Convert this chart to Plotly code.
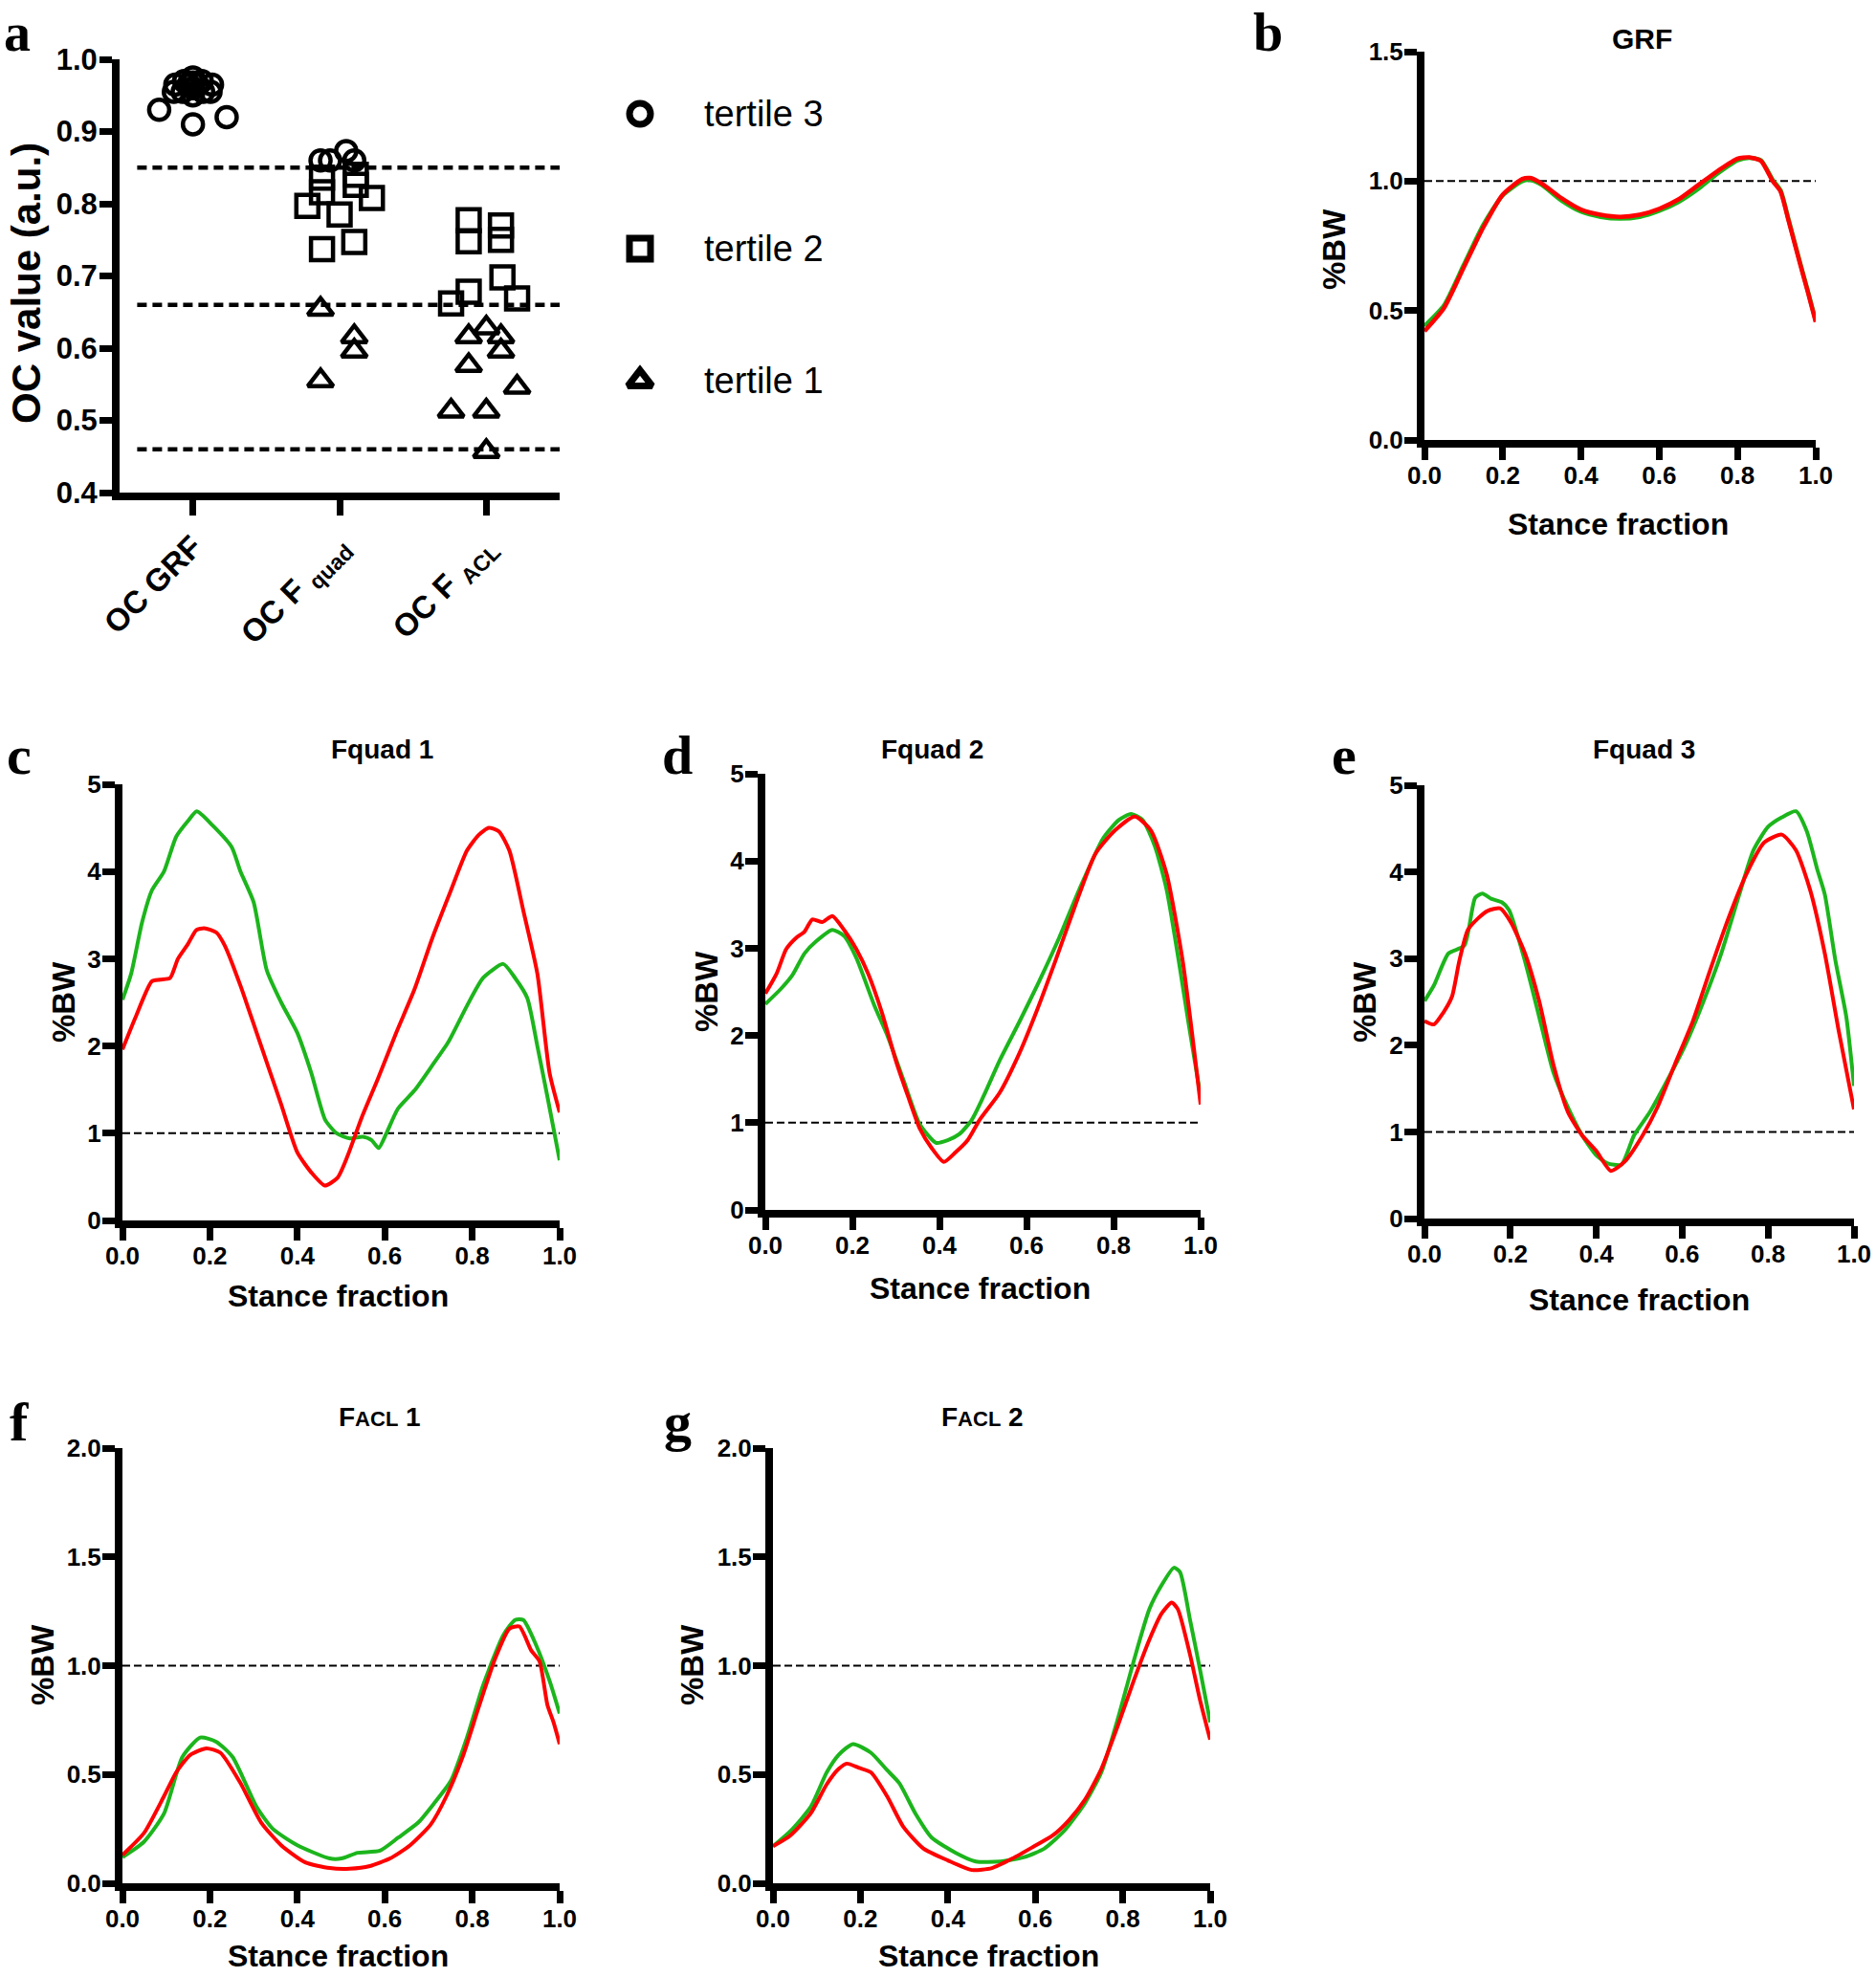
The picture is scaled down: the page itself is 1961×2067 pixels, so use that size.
import plotly.graph_objects as go

# ---------------- DATA ----------------
# Panel a: OC values per category and tertile (value, horizontal jitter offset)
categories = ["OC GRF", "OC F <sub>quad</sub>", "OC F <sub>ACL</sub>"]
tertile_cut_lines = [0.85, 0.66, 0.46]

grf_t3_vals = [0.93, 0.91, 0.92, 0.955, 0.965, 0.97, 0.955, 0.975, 0.96, 0.95, 0.97, 0.955, 0.965, 0.955, 0.965, 0.965, 0.968]
grf_t3_offs = [-0.23, 0.0, 0.23, -0.13, -0.12, -0.06, -0.07, 0.0, 0.0, 0.0, 0.06, 0.07, 0.13, 0.12, -0.03, 0.03, 0.0]

quad_t3_vals = [0.86, 0.86, 0.873, 0.86]
quad_t3_offs = [-0.13, -0.065, 0.045, 0.10]
quad_t2_vals = [0.836, 0.816, 0.84, 0.826, 0.797, 0.785, 0.808, 0.737, 0.747]
quad_t2_offs = [-0.12, -0.12, 0.11, 0.11, -0.22, 0.0, 0.22, -0.12, 0.10]
quad_t1_vals = [0.654, 0.616, 0.596, 0.555]
quad_t1_offs = [-0.13, 0.10, 0.10, -0.13]

acl_t2_vals = [0.777, 0.748, 0.77, 0.75, 0.698, 0.678, 0.662, 0.669]
acl_t2_offs = [-0.12, -0.12, 0.10, 0.10, 0.11, -0.12, -0.24, 0.21]
acl_t1_vals = [0.628, 0.616, 0.616, 0.596, 0.576, 0.546, 0.513, 0.513, 0.457]
acl_t1_offs = [0.0, -0.12, 0.10, 0.10, -0.12, 0.21, -0.24, 0.0, 0.0]

legend_labels = ["tertile 3", "tertile 2", "tertile 1"]

# Panel b: GRF
b_x = [0, 0.05, 0.1, 0.15, 0.2, 0.25, 0.27, 0.3, 0.35, 0.4, 0.45, 0.5, 0.55, 0.6, 0.65, 0.7, 0.75, 0.8, 0.83, 0.86, 0.89, 0.91, 0.93, 0.96, 0.98, 1.0]
b_red = [0.42, 0.51, 0.665, 0.82, 0.948, 1.008, 1.012, 0.99, 0.934, 0.89, 0.87, 0.862, 0.87, 0.893, 0.93, 0.985, 1.04, 1.087, 1.092, 1.078, 1.0, 0.96, 0.85, 0.68, 0.57, 0.456]
b_green = [0.44, 0.52, 0.675, 0.83, 0.945, 1.0, 1.005, 0.985, 0.925, 0.882, 0.862, 0.855, 0.862, 0.885, 0.92, 0.97, 1.03, 1.08, 1.09, 1.08, 1.005, 0.965, 0.855, 0.685, 0.575, 0.46]

# Panel c: Fquad 1
c_green_x = [0, 0.02, 0.045, 0.067, 0.095, 0.123, 0.15, 0.17, 0.206, 0.25, 0.27, 0.3, 0.33, 0.363, 0.4, 0.432, 0.464, 0.49, 0.52, 0.55, 0.57, 0.586, 0.603, 0.63, 0.668, 0.709, 0.746, 0.788, 0.825, 0.871, 0.898, 0.926, 0.949, 0.972, 1.0]
c_green_y = [2.53, 2.83, 3.42, 3.78, 4.0, 4.4, 4.58, 4.69, 4.53, 4.28, 4.0, 3.65, 2.87, 2.5, 2.15, 1.69, 1.15, 1.0, 0.94, 0.96, 0.92, 0.83, 0.99, 1.28, 1.49, 1.78, 2.05, 2.46, 2.78, 2.94, 2.78, 2.55, 2.0, 1.42, 0.69]
c_red_x = [0, 0.03, 0.067, 0.086, 0.109, 0.127, 0.15, 0.169, 0.187, 0.215, 0.234, 0.27, 0.307, 0.335, 0.363, 0.4, 0.432, 0.463, 0.492, 0.515, 0.548, 0.584, 0.626, 0.668, 0.709, 0.751, 0.788, 0.815, 0.838, 0.861, 0.885, 0.917, 0.949, 0.977, 1.0]
c_red_y = [1.96, 2.33, 2.74, 2.76, 2.78, 3.0, 3.17, 3.33, 3.35, 3.3, 3.15, 2.69, 2.15, 1.74, 1.33, 0.78, 0.55, 0.40, 0.49, 0.74, 1.19, 1.62, 2.15, 2.65, 3.24, 3.78, 4.24, 4.42, 4.5, 4.46, 4.24, 3.55, 2.83, 1.69, 1.24]

# Panel d: Fquad 2
d_green_x = [0, 0.035, 0.062, 0.09, 0.117, 0.154, 0.181, 0.209, 0.25, 0.282, 0.318, 0.355, 0.392, 0.419, 0.446, 0.474, 0.501, 0.538, 0.584, 0.629, 0.675, 0.721, 0.776, 0.812, 0.84, 0.867, 0.895, 0.922, 0.95, 0.973, 1.0]
d_green_y = [2.36, 2.53, 2.69, 2.94, 3.08, 3.21, 3.14, 2.89, 2.35, 1.98, 1.48, 0.98, 0.77, 0.8, 0.87, 1.03, 1.3, 1.71, 2.16, 2.62, 3.12, 3.67, 4.26, 4.47, 4.54, 4.47, 4.17, 3.67, 2.85, 2.12, 1.3]
d_red_x = [0, 0.026, 0.048, 0.071, 0.09, 0.108, 0.131, 0.154, 0.181, 0.209, 0.236, 0.268, 0.3, 0.328, 0.355, 0.382, 0.41, 0.437, 0.465, 0.492, 0.538, 0.584, 0.625, 0.666, 0.712, 0.758, 0.803, 0.849, 0.886, 0.922, 0.959, 1.0]
d_red_y = [2.48, 2.71, 2.99, 3.12, 3.19, 3.33, 3.3, 3.37, 3.21, 2.99, 2.71, 2.26, 1.71, 1.3, 0.93, 0.71, 0.55, 0.66, 0.8, 1.03, 1.34, 1.8, 2.3, 2.85, 3.49, 4.08, 4.35, 4.51, 4.35, 3.85, 2.85, 1.21]

# Panel e: Fquad 3
e_green_x = [0, 0.022, 0.056, 0.093, 0.118, 0.135, 0.155, 0.18, 0.197, 0.234, 0.267, 0.3, 0.326, 0.367, 0.4, 0.425, 0.458, 0.488, 0.525, 0.566, 0.608, 0.65, 0.691, 0.733, 0.766, 0.8, 0.832, 0.865, 0.89, 0.915, 0.932, 0.957, 0.982, 1.0]
e_green_y = [2.51, 2.69, 3.06, 3.15, 3.7, 3.75, 3.69, 3.65, 3.56, 2.97, 2.33, 1.69, 1.37, 0.96, 0.73, 0.64, 0.62, 0.96, 1.23, 1.6, 2.01, 2.51, 3.06, 3.74, 4.25, 4.52, 4.63, 4.7, 4.47, 4.02, 3.74, 2.97, 2.33, 1.53]
e_red_x = [0, 0.022, 0.043, 0.064, 0.081, 0.101, 0.126, 0.147, 0.176, 0.201, 0.234, 0.267, 0.3, 0.334, 0.367, 0.4, 0.434, 0.467, 0.508, 0.542, 0.583, 0.625, 0.666, 0.708, 0.749, 0.791, 0.832, 0.865, 0.898, 0.932, 0.965, 1.0]
e_red_y = [2.28, 2.24, 2.37, 2.56, 2.97, 3.33, 3.47, 3.55, 3.58, 3.42, 3.06, 2.51, 1.78, 1.23, 0.96, 0.78, 0.55, 0.66, 0.96, 1.28, 1.78, 2.28, 2.88, 3.47, 3.97, 4.34, 4.43, 4.25, 3.79, 3.06, 2.15, 1.26]

# Panel f: FACL 1
f_green_x = [0, 0.049, 0.095, 0.137, 0.178, 0.215, 0.252, 0.307, 0.344, 0.4, 0.474, 0.501, 0.538, 0.589, 0.631, 0.677, 0.714, 0.751, 0.788, 0.825, 0.871, 0.898, 0.917, 0.945, 0.977, 1.0]
f_green_y = [0.12, 0.19, 0.32, 0.58, 0.67, 0.65, 0.58, 0.35, 0.25, 0.175, 0.114, 0.114, 0.14, 0.15, 0.21, 0.28, 0.37, 0.47, 0.67, 0.91, 1.14, 1.21, 1.21, 1.1, 0.93, 0.78]
f_red_x = [0, 0.049, 0.095, 0.123, 0.155, 0.192, 0.224, 0.27, 0.317, 0.363, 0.418, 0.474, 0.52, 0.566, 0.612, 0.658, 0.705, 0.741, 0.778, 0.815, 0.852, 0.885, 0.908, 0.935, 0.954, 0.972, 0.986, 1.0]
f_red_y = [0.13, 0.23, 0.40, 0.51, 0.59, 0.62, 0.6, 0.46, 0.28, 0.175, 0.096, 0.07, 0.067, 0.079, 0.114, 0.175, 0.27, 0.4, 0.58, 0.81, 1.03, 1.17, 1.18, 1.07, 1.02, 0.82, 0.74, 0.64]

# Panel g: FACL 2
g_green_x = [0, 0.04, 0.086, 0.123, 0.15, 0.183, 0.224, 0.261, 0.289, 0.326, 0.363, 0.418, 0.464, 0.52, 0.575, 0.621, 0.668, 0.714, 0.751, 0.788, 0.825, 0.861, 0.889, 0.917, 0.931, 0.954, 0.977, 1.0]
g_green_y = [0.17, 0.24, 0.35, 0.51, 0.59, 0.64, 0.6, 0.52, 0.46, 0.32, 0.21, 0.14, 0.10, 0.10, 0.12, 0.16, 0.245, 0.37, 0.51, 0.75, 1.02, 1.26, 1.37, 1.45, 1.43, 1.21, 0.98, 0.74]
g_red_x = [0, 0.04, 0.086, 0.123, 0.15, 0.169, 0.197, 0.224, 0.261, 0.298, 0.344, 0.4, 0.455, 0.501, 0.548, 0.594, 0.64, 0.677, 0.714, 0.751, 0.788, 0.825, 0.861, 0.889, 0.912, 0.926, 0.954, 0.977, 1.0]
g_red_y = [0.17, 0.22, 0.32, 0.455, 0.525, 0.55, 0.53, 0.51, 0.4, 0.26, 0.16, 0.105, 0.061, 0.07, 0.114, 0.166, 0.22, 0.29, 0.385, 0.525, 0.72, 0.93, 1.12, 1.24, 1.29, 1.26, 1.05, 0.84, 0.66]

stance_ticks = [0, 0.2, 0.4, 0.6, 0.8, 1.0]

# ---------------- LAYOUT HELPERS ----------------
W, H = 1961, 2067
def fx(px):
    return px / W
def fy(py):
    return 1 - py / H

FONT = "Liberation Sans, Arial, sans-serif"
SERIF = "Liberation Serif, Times New Roman, serif"
GREEN = "#1CB51C"
RED = "#FF0000"

fig = go.Figure()

TICKFONT = dict(family=FONT, size=26, color="black", weight="bold")
axis_base = dict(showline=True, linecolor="black", linewidth=8, ticks="outside",
                 ticklen=13, tickwidth=7, tickcolor="black", showgrid=False,
                 zeroline=False, fixedrange=True, automargin=False,
                 ticklabeloverflow="allow", tickfont=TICKFONT)

# panel boxes in pixels (left, right, top, bottom)
boxes = {
    2: (1489, 1898, 54, 460),
    3: (128, 585, 820, 1276),
    4: (800, 1255, 809, 1265),
    5: (1489, 1938, 821, 1274),
    6: (128, 585, 1514, 1969),
    7: (808, 1265, 1514, 1969),
}
yranges = {2: [0, 1.5], 3: [0, 5], 4: [0, 5], 5: [0, 5], 6: [0, 2], 7: [0, 2]}
yticks = {2: [0, 0.5, 1.0, 1.5], 3: [0, 1, 2, 3, 4, 5], 4: [0, 1, 2, 3, 4, 5],
          5: [0, 1, 2, 3, 4, 5], 6: [0, 0.5, 1.0, 1.5, 2.0], 7: [0, 0.5, 1.0, 1.5, 2.0]}
yfmt = {2: ".1f", 3: "d", 4: "d", 5: "d", 6: ".1f", 7: ".1f"}

layout = dict(width=W, height=H, autosize=False,
              margin=dict(l=0, r=0, t=0, b=0, pad=0, autoexpand=False),
              paper_bgcolor="white", plot_bgcolor="rgba(0,0,0,0)", showlegend=False)

# Panel a axes
layout["xaxis"] = dict(domain=[fx(125), fx(585)], range=[-0.5, 2.5], anchor="y",
                       tickvals=[0, 1, 2], ticktext=categories, tickangle=-45,
                       **{**axis_base, "ticklen": 16,
                          "tickfont": dict(family=FONT, size=33, color="black", weight="bold")})
layout["yaxis"] = dict(domain=[fy(515), fy(62)], range=[0.4, 1.0], anchor="x",
                       dtick=0.1, tick0=0.4, tickformat=".1f", ticklabelstandoff=-4,
                       **{**axis_base, "tickfont": dict(family=FONT, size=31, color="black", weight="bold")})

for n, (l, r, t, b) in boxes.items():
    layout[f"xaxis{n}"] = dict(domain=[fx(l), fx(r)], range=[0, 1], anchor=f"y{n}",
                               tickvals=stance_ticks, tickformat=".1f",
                               ticklabelstandoff=-6, **axis_base)
    layout[f"yaxis{n}"] = dict(domain=[fy(b), fy(t)], range=yranges[n], anchor=f"x{n}",
                               tickvals=yticks[n], tickformat=yfmt[n],
                               ticklabelstandoff=-4, **axis_base)

# legend axis (hidden), pixel-like coordinates
layout["xaxis8"] = dict(domain=[fx(630), fx(1000)], range=[630, 1000], visible=False,
                        anchor="y8", fixedrange=True, automargin=False)
layout["yaxis8"] = dict(domain=[fy(450), fy(60)], range=[450, 60], visible=False,
                        anchor="x8", fixedrange=True, automargin=False)

fig.update_layout(**layout)

# ---------------- PANEL a TRACES ----------------
def scat(cat_idx, offs, vals, symbol, size):
    return go.Scatter(x=[cat_idx + o for o in offs], y=vals, mode="markers",
                      xaxis="x", yaxis="y", cliponaxis=False,
                      marker=dict(symbol=symbol, size=size, color="rgba(0,0,0,0)",
                                  line=dict(color="black", width=4.5)))

fig.add_trace(scat(0, grf_t3_offs, grf_t3_vals, "circle", 21))
fig.add_trace(scat(1, quad_t3_offs, quad_t3_vals, "circle", 21))
fig.add_trace(scat(1, quad_t2_offs, quad_t2_vals, "square", 23))
fig.add_trace(scat(1, quad_t1_offs, quad_t1_vals, "triangle-up", 23))
fig.add_trace(scat(2, acl_t2_offs, acl_t2_vals, "square", 23))
fig.add_trace(scat(2, acl_t1_offs, acl_t1_vals, "triangle-up", 23))

shapes = []
for v in tertile_cut_lines:
    shapes.append(dict(type="line", xref="x", yref="y", x0=-0.38, x1=2.5, y0=v, y1=v,
                       line=dict(color="black", width=4.5, dash="10px,6px"), layer="below"))

# legend markers
legend_y = [119, 260, 398]
legend_symbols = ["circle", "square", "triangle-up"]
legend_sizes = [22, 22, 22]
for yy, sym, sz in zip(legend_y, legend_symbols, legend_sizes):
    fig.add_trace(go.Scatter(x=[669], y=[yy], mode="markers", xaxis="x8", yaxis="y8",
                             marker=dict(symbol=sym, size=sz, color="rgba(0,0,0,0)",
                                         line=dict(color="black", width=7))))

# ---------------- LINE PANELS ----------------
curves = {
    2: (b_x, b_green, b_x, b_red),
    3: (c_green_x, c_green_y, c_red_x, c_red_y),
    4: (d_green_x, d_green_y, d_red_x, d_red_y),
    5: (e_green_x, e_green_y, e_red_x, e_red_y),
    6: (f_green_x, f_green_y, f_red_x, f_red_y),
    7: (g_green_x, g_green_y, g_red_x, g_red_y),
}
for n, (gx, gy, rx, ry) in curves.items():
    lw = 4.5 if n == 2 else 4
    fig.add_trace(go.Scatter(x=gx, y=gy, mode="lines", xaxis=f"x{n}", yaxis=f"y{n}",
                             line=dict(color=GREEN, width=lw, shape="spline", smoothing=0.6)))
    fig.add_trace(go.Scatter(x=rx, y=ry, mode="lines", xaxis=f"x{n}", yaxis=f"y{n}",
                             line=dict(color=RED, width=lw, shape="spline", smoothing=0.6)))
    shapes.append(dict(type="line", xref=f"x{n}", yref=f"y{n}", x0=0, x1=1, y0=1, y1=1,
                       line=dict(color="black", width=2, dash="8px,4px"), layer="below"))

# ---------------- ANNOTATIONS ----------------
ann = []
def text(px, py, s, size, bold=True, family=FONT, angle=0, xanchor="center", yanchor="middle"):
    ann.append(dict(x=fx(px), y=fy(py), xref="paper", yref="paper", text=s, showarrow=False,
                    textangle=angle, xanchor=xanchor, yanchor=yanchor,
                    font=dict(family=family, size=size, color="black",
                              weight="bold" if bold else "normal")))

# panel letters
text(18, 1, "a", 56, family=SERIF, yanchor="top")
text(1325, 1, "b", 56, family=SERIF, yanchor="top")
for letter, (px, py) in {"c": (20, 790), "d": (708, 790), "e": (1405, 790),
                         "f": (20, 1486), "g": (708, 1486)}.items():
    text(px, py, letter, 58, family=SERIF)

# titles
text(1716, 40, "GRF", 30)
text(399, 783, "Fquad 1", 28)
text(974, 783, "Fquad 2", 28)
text(1718, 783, "Fquad 3", 28)
text(397, 1481, "F<span style='font-size:22px'>ACL</span> 1", 28)
text(1027, 1481, "F<span style='font-size:22px'>ACL</span> 2", 28)

# axis titles
text(27, 296, "OC value (a.u.)", 42, angle=-90)
for (px, py) in [(1691, 548), (353, 1355), (1024, 1347), (1713, 1359), (353, 2045), (1033, 2045)]:
    text(px, py, "Stance fraction", 32)
for (px, py) in [(1394, 261), (66, 1048), (738, 1037), (1426, 1048), (44, 1741), (723, 1741)]:
    text(px, py, "%BW", 33, angle=-90)

# legend texts
for yy, lab in zip(legend_y, legend_labels):
    ann.append(dict(x=734, y=yy, xref="x8", yref="y8", text=lab, showarrow=False,
                    xanchor="left", yanchor="middle",
                    font=dict(family=FONT, size=38, color="black")))

fig.update_layout(shapes=shapes, annotations=ann)

fig.write_html("out.html", config={"displayModeBar": False},
               post_script="document.body.style.margin='0';document.body.style.overflow='hidden';")
